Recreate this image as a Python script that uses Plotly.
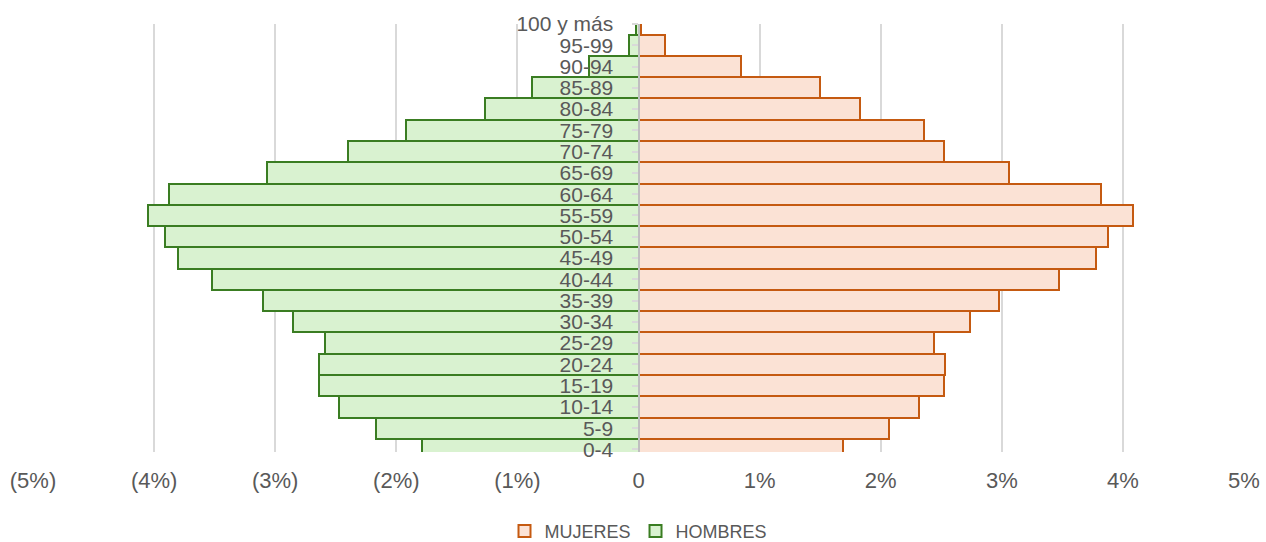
import plotly.graph_objects as go

# Grupos de edad (de abajo hacia arriba)
edades = [
    "0-4", "5-9", "10-14", "15-19", "20-24", "25-29", "30-34", "35-39",
    "40-44", "45-49", "50-54", "55-59", "60-64", "65-69", "70-74",
    "75-79", "80-84", "85-89", "90-94", "95-99", "100 y más",
]

# Porcentaje de la población
mujeres = [
    1.69, 2.07, 2.32, 2.52, 2.53, 2.44, 2.74, 2.98, 3.47, 3.78, 3.88,
    4.08, 3.82, 3.06, 2.52, 2.36, 1.83, 1.50, 0.85, 0.22, 0.02,
]
hombres = [
    -1.79, -2.17, -2.47, -2.64, -2.64, -2.59, -2.85, -3.10, -3.52, -3.80, -3.91,
    -4.05, -3.88, -3.07, -2.40, -1.92, -1.27, -0.88, -0.41, -0.08, -0.02,
]

x_ticks = [-5, -4, -3, -2, -1, 0, 1, 2, 3, 4, 5]
x_labels = ["(5%)", "(4%)", "(3%)", "(2%)", "(1%)", "0", "1%", "2%", "3%", "4%", "5%"]

font_family = "Liberation Sans, Arial, sans-serif"
gris = "#595959"

fig = go.Figure()

fig.add_trace(go.Bar(
    y=edades, x=mujeres, name="MUJERES", orientation="h",
    marker=dict(color="#fbe2d5", line=dict(color="#c55a11", width=2)),
))
fig.add_trace(go.Bar(
    y=edades, x=hombres, name="HOMBRES", orientation="h",
    marker=dict(color="#d9f2d0", line=dict(color="#3a7d22", width=2)),
))

fig.update_layout(
    width=1266,
    height=542,
    barmode="overlay",
    bargap=0,
    plot_bgcolor="white",
    paper_bgcolor="white",
    margin=dict(l=33, r=22, t=24, b=90, autoexpand=False),
    font=dict(family=font_family, size=21, color=gris),
    legend=dict(
        orientation="h", x=0.5, xanchor="center",
        y=-0.185, yanchor="middle",
        font=dict(size=18, color=gris), traceorder="normal",
        itemwidth=30,
    ),
)

fig.update_xaxes(
    range=[-5, 5],
    tickvals=x_ticks,
    ticktext=x_labels,
    showgrid=True,
    gridcolor="#d9d9d9",
    gridwidth=2,
    zeroline=False,
    ticks="",
    ticklabelstandoff=13,
    showline=False,
    automargin=False,
    tickfont=dict(size=22, color=gris),
)

fig.update_yaxes(
    type="category",
    categoryorder="array",
    categoryarray=edades,
    tickmode="array",
    tickvals=edades,
    ticktext=edades,
    range=[-0.12, 20],
    anchor="free",
    position=0.5,
    ticks="outside",
    ticklen=6,
    tickcolor="#d9d9d9",
    tickwidth=2,
    ticklabelstandoff=14,
    showgrid=False,
    showline=True,
    linecolor="#bfbfbf",
    linewidth=2,
    layer="above traces",
    automargin=False,
    tickfont=dict(size=21, color=gris),
)

# el navegador añade un margen de 8px al body
fig.write_html(
    "out.html",
    config={"displayModeBar": False},
    post_script="document.body.style.margin='0';",
)
